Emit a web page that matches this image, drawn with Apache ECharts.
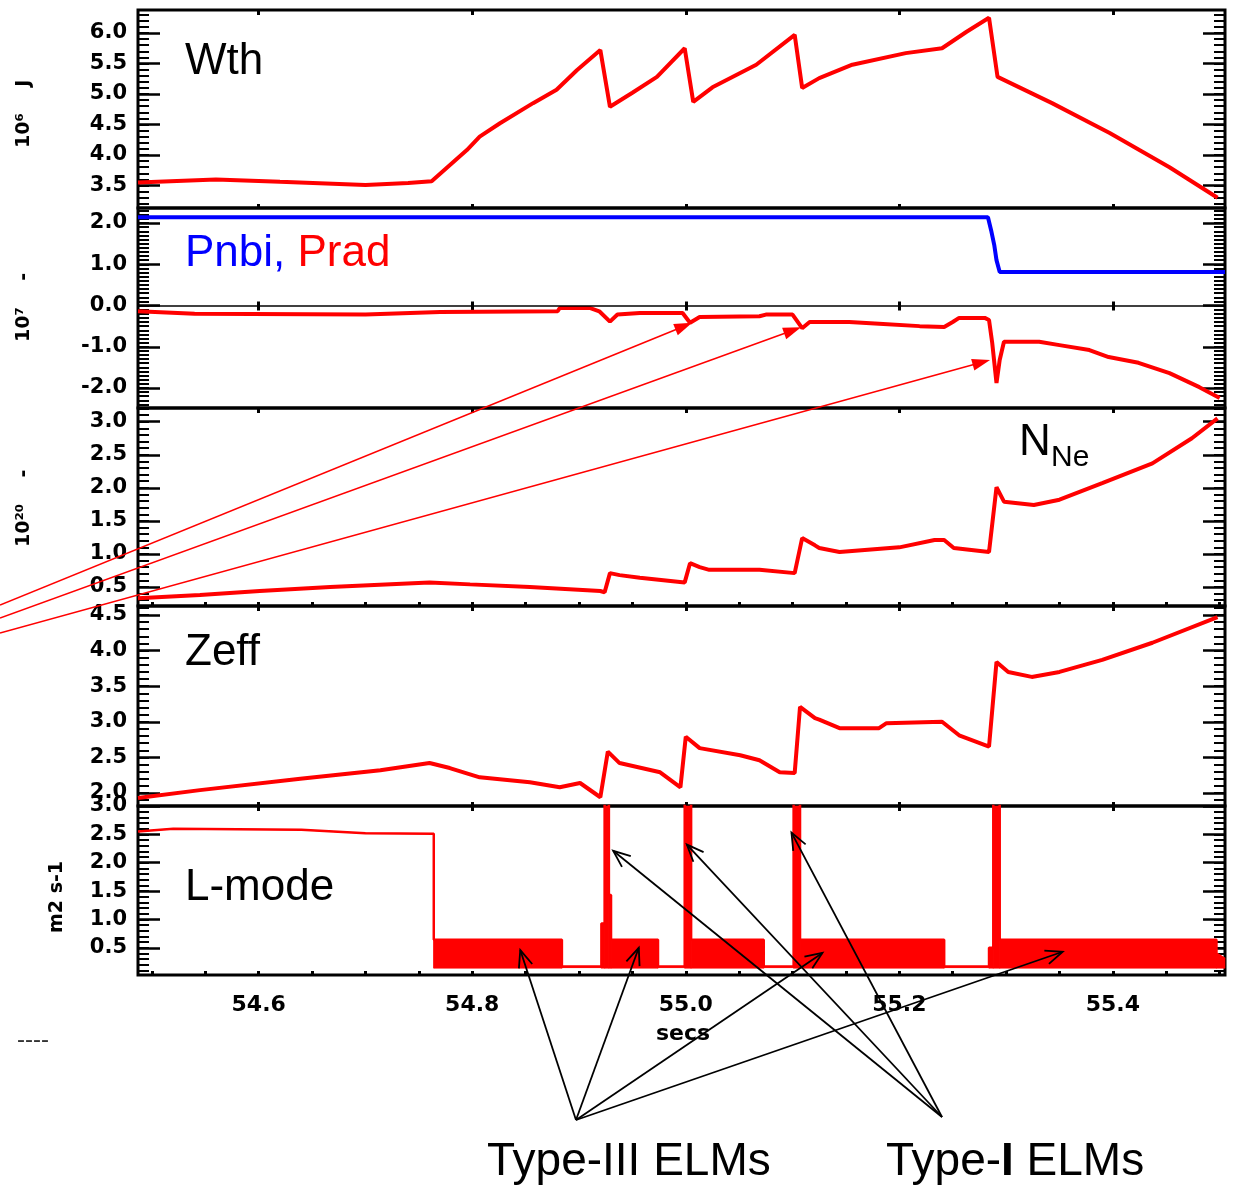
<!DOCTYPE html>
<html><head><meta charset="utf-8">
<script src="https://cdn.jsdelivr.net/npm/echarts@6/dist/echarts.min.js"></script>
<style>html,body{margin:0;padding:0;background:#fff}#c{width:1236px;height:1188px}</style>
</head><body><div id="c"></div>
<script>
// ---------------- data (time in secs) ----------------
const wthT = [54.487,54.56,54.62,54.70,54.74,54.762,54.795,54.807,54.826,54.857,54.879,54.898,54.920,54.929,54.950,54.973,54.999,55.007,55.025,55.066,55.102,55.109,55.125,55.156,55.206,55.240,55.263,55.284,55.292,55.343,55.397,55.453,55.498];
const wthV = [3.55,3.60,3.56,3.51,3.54,3.57,4.08,4.30,4.52,4.85,5.07,5.39,5.72,4.79,5.02,5.28,5.75,4.87,5.11,5.48,5.97,5.10,5.26,5.48,5.67,5.75,6.02,6.25,5.28,4.85,4.36,3.80,3.30];

const pnbiT = [54.487,55.283,55.286,55.289,55.291,55.294,55.505];
const pnbiV = [2.14,2.14,1.82,1.45,1.10,0.81,0.81];

const pradT = [54.487,54.54,54.70,54.77,54.88,54.882,54.910,54.919,54.929,54.936,54.957,54.997,55.004,55.013,55.069,55.075,55.100,55.109,55.116,55.153,55.181,55.219,55.242,55.250,55.256,55.280,55.284,55.287,55.291,55.294,55.298,55.331,55.350,55.378,55.396,55.424,55.453,55.481,55.500];
const pradV = [-0.14,-0.20,-0.22,-0.16,-0.14,-0.06,-0.06,-0.14,-0.39,-0.22,-0.18,-0.18,-0.42,-0.28,-0.26,-0.22,-0.22,-0.55,-0.40,-0.40,-0.44,-0.50,-0.52,-0.40,-0.30,-0.30,-0.35,-0.91,-1.88,-1.32,-0.88,-0.88,-0.96,-1.08,-1.25,-1.39,-1.64,-1.98,-2.24];

const nneT = [54.487,54.545,54.601,54.667,54.760,54.798,54.854,54.920,54.924,54.929,54.938,54.957,54.999,55.004,55.013,55.022,55.069,55.102,55.109,55.121,55.125,55.144,55.200,55.233,55.242,55.251,55.284,55.291,55.298,55.326,55.350,55.390,55.437,55.474,55.498];
const nneV = [0.33,0.38,0.44,0.50,0.57,0.54,0.50,0.44,0.42,0.71,0.68,0.64,0.57,0.86,0.80,0.76,0.76,0.71,1.24,1.13,1.09,1.03,1.10,1.21,1.21,1.09,1.03,2.01,1.79,1.74,1.82,2.07,2.37,2.75,3.05];

const zeffT = [54.487,54.545,54.639,54.714,54.760,54.779,54.807,54.854,54.882,54.901,54.920,54.927,54.938,54.976,54.995,55.000,55.013,55.051,55.069,55.088,55.102,55.107,55.121,55.125,55.144,55.181,55.188,55.240,55.256,55.284,55.291,55.302,55.324,55.350,55.390,55.437,55.498];
const zeffV = [1.93,2.04,2.20,2.32,2.42,2.35,2.22,2.15,2.08,2.14,1.94,2.58,2.42,2.29,2.08,2.79,2.63,2.53,2.46,2.29,2.28,3.21,3.05,3.03,2.91,2.91,2.98,3.00,2.81,2.65,3.84,3.70,3.63,3.70,3.87,4.11,4.47];

// D-alpha like signal: lower / upper envelope of the fast ELM oscillation
const dT  = [54.487,54.520,54.640,54.700,54.764,54.764,54.884,54.884,54.921,54.921,54.924,54.924,54.928,54.928,54.930,54.930,54.974,54.974,54.999,54.999,55.005,55.005,55.073,55.073,55.101,55.101,55.107,55.107,55.242,55.242,55.284,55.284,55.288,55.288,55.294,55.294,55.497,55.497,55.505];
const dLo = [2.55,2.60,2.58,2.52,2.51,0.14,0.14,0.15,0.15,0.14,0.14,0.14,0.14,0.14,0.14,0.14,0.14,0.15,0.15,0.14,0.14,0.14,0.14,0.15,0.15,0.14,0.14,0.14,0.14,0.15,0.15,0.14,0.14,0.14,0.14,0.14,0.14,0.14,0.14];
const dHi = [2.55,2.60,2.58,2.52,2.51,0.64,0.64,0.17,0.17,0.93,0.93,3.40,3.40,1.43,1.43,0.64,0.64,0.17,0.17,3.40,3.40,0.64,0.64,0.17,0.17,3.40,3.40,0.64,0.64,0.17,0.17,0.50,0.50,3.40,3.40,0.64,0.64,0.40,0.30];

// tick labels
const xTickLabels = [54.6,54.8,55.0,55.2,55.4];
const wthTicks  = [3.5,4.0,4.5,5.0,5.5,6.0];
const powTicks  = [-2.0,-1.0,0.0,1.0,2.0];
const nneTicks  = [0.5,1.0,1.5,2.0,2.5,3.0];
const zeffTicks = [2.0,2.5,3.0,3.5,4.0,4.5];
const dTicks    = [0.0,0.5,1.0,1.5,2.0,2.5,3.0];

// annotation anchors (data coords for tips)
const radTips  = [[55.006,-0.42],[55.108,-0.53],[55.285,-1.32]];
const radFrom  = [[0,605],[0,618],[0,633]];
const t3Tips   = [[54.845,0.46],[54.956,0.50],[55.128,0.41],[55.353,0.43]];
const t3From   = [576,1120];
const t1Tips   = [[54.932,2.21],[55.001,2.32],[55.099,2.53]];
const t1From   = [942,1117];

// ---------------- layout ----------------
const X_MIN = 54.487, X_MAX = 55.505;
const panels = [
  {top:10,  h:198, min:3.131,  max:6.377, labels:wthTicks,  fineX:false},
  {top:208, h:200, min:-2.485, max:2.364, labels:powTicks,  fineX:false},
  {top:408, h:198, min:0.213,  max:3.207, labels:nneTicks,  fineX:true},
  {top:606, h:200, min:1.817,  max:4.626, labels:zeffTicks, fineX:false},
  {top:806, h:169, min:0.02,   max:3.0,   labels:dTicks,    fineX:true}
];
function steps(a,b,s){const o=[];for(let k=Math.ceil(a/s-1e-9);k*s<=b+1e-9;k++)o.push(+(k*s).toFixed(3));return o;}
const xMajor = steps(X_MIN,X_MAX,0.2);
const xFine  = steps(X_MIN,X_MAX,0.05);
const RED='#ff0000', BLUE='#0000ff';
const LBL = {color:'#000', fontFamily:'DejaVu Sans', fontWeight:'bold', fontSize:21};

const grids=[], xAxes=[], yAxes=[];
panels.forEach((p,i)=>{
  grids.push({left:138,right:11,top:p.top,height:p.h,show:true,borderColor:'#000',borderWidth:3,backgroundColor:'transparent',containLabel:false,outerBoundsMode:'none'});
  xAxes.push({type:'value',gridIndex:i,min:X_MIN,max:X_MAX,position:'bottom',axisLine:{show:false},splitLine:{show:false},
    axisTick:{show:true,inside:true,length:4,customValues:p.fineX?xFine:xMajor,lineStyle:{color:'#000',width:3}},
    axisLabel: i===4 ? Object.assign({show:true,customValues:xTickLabels,formatter:v=>v.toFixed(1),margin:19},LBL,{fontSize:22}) : {show:false}});
  xAxes.push({type:'value',gridIndex:i,min:X_MIN,max:X_MAX,position:'top',axisLine:{show:false},splitLine:{show:false},
    axisTick:{show:true,inside:true,length:5,customValues:xMajor,lineStyle:{color:'#000',width:3}},axisLabel:{show:false}});
  const minor = steps(p.min,p.max,0.1);
  const base = {type:'value',gridIndex:i,min:p.min,max:p.max,axisLine:{show:false},splitLine:{show:false}};
  yAxes.push(Object.assign({},base,{position:'left',axisTick:{show:true,inside:true,length:22,customValues:p.labels,lineStyle:{color:'#000',width:2.5}},
    axisLabel:Object.assign({show:true,customValues:p.labels,formatter:v=>v.toFixed(1),margin:11},LBL)}));
  yAxes.push(Object.assign({},base,{position:'left',axisTick:{show:true,inside:true,length:11,customValues:minor,lineStyle:{color:'#000',width:2}},axisLabel:{show:false}}));
  yAxes.push(Object.assign({},base,{position:'right',axisTick:{show:true,inside:true,length:22,customValues:p.labels,lineStyle:{color:'#000',width:2.5}},axisLabel:{show:false}}));
  yAxes.push(Object.assign({},base,{position:'right',axisTick:{show:true,inside:true,length:11,customValues:minor,lineStyle:{color:'#000',width:2}},axisLabel:{show:false}}));
});

function line(name,gi,T,V,color,width,extra){
  return Object.assign({type:'line',name,xAxisIndex:2*gi,yAxisIndex:4*gi,data:T.map((t,k)=>[t,V[k]]),
    showSymbol:false,symbol:'none',lineStyle:{color,width},itemStyle:{color},animation:false,silent:true,z:3},extra||{});
}
// filled band between lower and upper envelopes, through the axes' scales
const bandSeries = {
  type:'custom',name:'Dband',xAxisIndex:8,yAxisIndex:16,silent:true,animation:false,z:2,
  data:dT.map((t,k)=>[t,dLo[k],dHi[k]]),
  encode:{x:0,y:[1,2]},
  renderItem:function(params,api){
    const k=params.dataIndex; if(k>=dT.length-1) return null;
    const cs=params.coordSys;
    const cl=p=>[p[0],Math.max(cs.y,Math.min(cs.y+cs.height,p[1]))];
    const pts=[api.coord([dT[k],dHi[k]]),api.coord([dT[k+1],dHi[k+1]]),api.coord([dT[k+1],dLo[k+1]]),api.coord([dT[k],dLo[k]])].map(cl);
    return {type:'polygon',shape:{points:pts},style:{fill:RED,stroke:RED,lineWidth:0.6}};
  }
};
const series = [
  line('Wth',0,wthT,wthV,RED,4),
  line('Pnbi',1,pnbiT,pnbiV,BLUE,4),
  line('Prad',1,pradT,pradV,RED,4,{markLine:{silent:true,symbol:['none','none'],label:{show:false},lineStyle:{color:'#000',width:1.5,type:'solid'},data:[{yAxis:0}],animation:false}}),
  line('NNe',2,nneT,nneV,RED,4),
  line('Zeff',3,zeffT,zeffV,RED,4),
  bandSeries,
  line('Dhi',4,dT,dHi,RED,2.5)
];

const chart = echarts.init(document.getElementById('c'),null,{renderer:'canvas'});
chart.setOption({animation:false,backgroundColor:'#fff',grid:grids,xAxis:xAxes,yAxis:yAxes,series});

// ---------------- annotations ----------------
const G=[];
function txt(x,y,text,o){G.push(Object.assign({type:'text',x,y,z:10,style:Object.assign({text,fill:'#000',fontFamily:'Liberation Sans',fontSize:44,align:'left',verticalAlign:'middle'},o&&o.style||{})},o&&o.el||{}));}
txt(185,62,'Wth');
txt(185,653,'Zeff');
txt(185,888,'L-mode');
G.push({type:'text',x:185,y:254,z:10,style:{text:'{b|Pnbi,} {r|Prad}',fontFamily:'Liberation Sans',fontSize:44,verticalAlign:'middle',rich:{b:{fill:BLUE,fontFamily:'Liberation Sans',fontSize:44},r:{fill:RED,fontFamily:'Liberation Sans',fontSize:44}}}});
txt(1019,443,'N');
txt(1051,458,'Ne',{style:{fontSize:30}});
txt(487,1162,'Type-III ELMs',{style:{fontSize:46}});
G.push({type:'text',x:886,y:1162,z:10,style:{text:'{n|Type-}{b|I}{n| ELMs}',verticalAlign:'middle',fontFamily:'Liberation Sans',fontSize:46,rich:{n:{fill:'#000',fontFamily:'Liberation Sans',fontSize:46},b:{fill:'#000',fontFamily:'Liberation Sans',fontSize:46,fontWeight:'bold'}}}});
txt(683,1034,'secs',{style:{fontFamily:'DejaVu Sans',fontWeight:'bold',fontSize:22,align:'center'}});
txt(17,1040,'----',{style:{fontSize:24,fill:'#333'}});
// rotated axis names
function vtxt(x,y,text){G.push({type:'text',x,y,rotation:Math.PI/2,z:10,style:{text,fill:'#000',fontFamily:'DejaVu Sans',fontWeight:'bold',fontSize:19,align:'left',verticalAlign:'middle'}});}
vtxt(24,148,'10\u2076    J');
vtxt(24,342,'10\u2077    -');
vtxt(24,547,'10\u00b2\u2070    -');
vtxt(57,933,'m2 s-1');

function P(si,pt){return chart.convertToPixel({seriesIndex:si},pt);}
function head(tip,from,L,W){const dx=tip[0]-from[0],dy=tip[1]-from[1],d=Math.hypot(dx,dy),ux=dx/d,uy=dy/d;
  const bx=tip[0]-ux*L,by=tip[1]-uy*L;return [[bx-uy*W,by+ux*W],[bx+uy*W,by-ux*W]];}
radTips.forEach((t,k)=>{const tip=P(2,t),f=radFrom[k];const h=head(tip,f,18,6);
  G.push({type:'line',z:12,shape:{x1:f[0],y1:f[1],x2:tip[0]-(tip[0]-f[0])*0.01,y2:tip[1]-(tip[1]-f[1])*0.01},style:{stroke:RED,lineWidth:1.6}});
  G.push({type:'polygon',z:12,shape:{points:[tip,h[0],h[1]]},style:{fill:RED}});});
function blackArrows(tips,from){tips.forEach(t=>{const tip=P(6,t);const h=head(tip,from,17,7);
  G.push({type:'line',z:12,shape:{x1:from[0],y1:from[1],x2:tip[0],y2:tip[1]},style:{stroke:'#000',lineWidth:1.8}});
  G.push({type:'polyline',z:12,shape:{points:[h[0],tip,h[1]]},style:{stroke:'#000',lineWidth:1.8,fill:null}});});}
blackArrows(t3Tips,t3From);
blackArrows(t1Tips,t1From);
chart.setOption({graphic:G});
</script></body></html>
